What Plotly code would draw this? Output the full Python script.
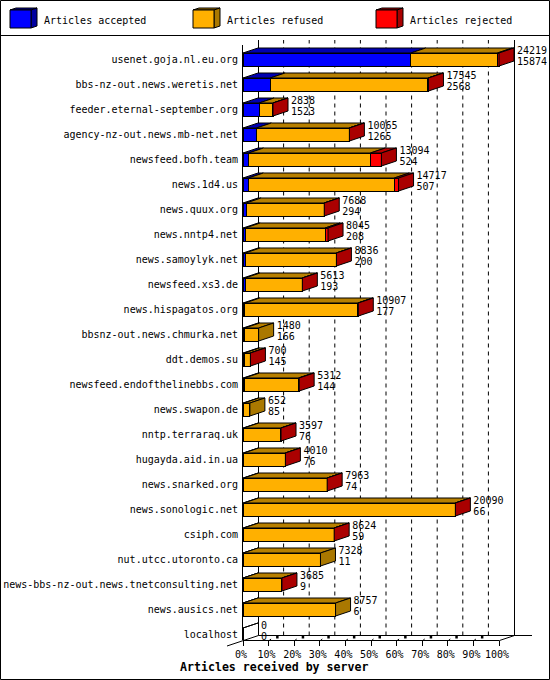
import numpy as np
import plotly.graph_objects as go

hosts = ['usenet.goja.nl.eu.org', 'bbs-nz-out.news.weretis.net', 'feeder.eternal-september.org',
         'agency-nz-out.news.mb-net.net', 'newsfeed.bofh.team', 'news.1d4.us', 'news.quux.org',
         'news.nntp4.net', 'news.samoylyk.net', 'newsfeed.xs3.de', 'news.hispagatos.org',
         'bbsnz-out.news.chmurka.net', 'ddt.demos.su', 'newsfeed.endofthelinebbs.com',
         'news.swapon.de', 'nntp.terraraq.uk', 'hugayda.aid.in.ua', 'news.snarked.org',
         'news.sonologic.net', 'csiph.com', 'nut.utcc.utoronto.ca',
         'news-bbs-nz-out.news.tnetconsulting.net', 'news.ausics.net', 'localhost']
totals = [24219, 17545, 2838, 10065, 13094, 14717, 7688, 8045, 8836, 5613, 10907, 1480,
          700, 5312, 652, 3597, 4010, 7963, 20090, 8624, 7328, 3685, 8757, 0]
accepted = [15874, 2568, 1523, 1265, 524, 507, 294, 208, 200, 193, 177, 166,
            145, 144, 85, 76, 76, 74, 66, 59, 11, 9, 6, 0]
# rejected is not printed on the chart, estimated from the red part of the bars
rejected = [150, 50, 20, 30, 1040, 400, 10, 280, 10, 10, 50, 0,
            10, 60, 0, 30, 10, 10, 10, 10, 0, 10, 0, 0]
legend_names = ['Articles accepted', 'Articles refused', 'Articles rejected']
pct_ticks = [0, 10, 20, 30, 40, 50, 60, 70, 80, 90, 100]

W, H = 550, 680
X0, X100 = 243, 499        # 0% and 100% on the front plane
ROW_H = 25
ROW0 = 59.5                # pixel centre of the first row
TOP, BOTTOM = 45, 640
PX_PER_PCT = (X100 - X0) / 100
DX = 15 / PX_PER_PCT       # depth of the 3d effect in axis units
DY = 5 / ROW_H
HALF = 6.5 / ROW_H

FRONT = ['#0000ff', '#ffb000', '#ff0000']
TOPS = ['#0000b0', '#b88000', '#b80000']
SIDES = ['#0000a0', '#aa7800', '#aa0000']
MONO = 'DejaVu Sans Mono'


def px(x):
    return x / W


def py(y):
    return 1 - y / H


scale = 100 / max(totals)
acc = np.array(accepted) * scale
rej = np.array(rejected) * scale
tot = np.array(totals) * scale
ref = tot - acc - rej
rows = np.arange(len(hosts))

fig = go.Figure()

# front faces
for vals, name, col in zip([acc, ref, rej], legend_names, FRONT):
    fig.add_trace(go.Bar(y=rows, x=vals, orientation='h', name=name, width=2 * HALF,
                         marker=dict(color=col, line=dict(color='black', width=1)),
                         hoverinfo='skip'))


def poly_trace(xs, ys, col):
    return go.Scatter(x=xs, y=ys, mode='lines', fill='toself', fillcolor=col,
                      line=dict(color='black', width=1), hoverinfo='skip', cliponaxis=False)


# top faces, one trace per colour
starts = [np.zeros(len(hosts)), acc, acc + ref]
ends = [acc, acc + ref, tot]
for s, e, col in zip(starts, ends, TOPS):
    xs, ys = [], []
    for i in rows:
        if e[i] > s[i] or (tot[i] == 0 and col == TOPS[0]):
            xs += [s[i], e[i], e[i] + DX, s[i] + DX, s[i], None]
            ys += [i - HALF, i - HALF, i - HALF - DY, i - HALF - DY, i - HALF, None]
    fig.add_trace(poly_trace(xs, ys, col))

# side faces take the colour of the last segment
for which, col in [(1, SIDES[1]), (2, SIDES[2])]:
    xs, ys = [], []
    for i in rows:
        last = 2 if rej[i] > 0 else 1
        if tot[i] > 0 and last == which:
            xs += [tot[i], tot[i] + DX, tot[i] + DX, tot[i], tot[i], None]
            ys += [i - HALF, i - HALF - DY, i + HALF - DY, i + HALF, i - HALF, None]
    fig.add_trace(poly_trace(xs, ys, col))

# numbers next to the bars
label_x = tot + DX + 3 / PX_PER_PCT
fig.add_trace(go.Scatter(x=label_x, y=rows - 0.34, mode='text', text=[str(v) for v in totals],
                         textposition='middle right', cliponaxis=False, hoverinfo='skip',
                         textfont=dict(family=MONO, size=10, color='black')))
fig.add_trace(go.Scatter(x=label_x, y=rows + 0.10, mode='text', text=[str(v) for v in accepted],
                         textposition='middle right', cliponaxis=False, hoverinfo='skip',
                         textfont=dict(family=MONO, size=10, color='black')))

shapes = []


def line(x0, y0, x1, y1):
    shapes.append(dict(type='line', xref='paper', yref='paper', x0=px(x0), y0=py(y0),
                       x1=px(x1), y1=py(y1), line=dict(color='black', width=1), layer='below'))


# frame around the picture and legend separator
shapes.append(dict(type='rect', xref='paper', yref='paper', x0=px(0.5), y0=py(0.5), x1=px(549.5),
                   y1=py(679.5), line=dict(color='black', width=1)))
line(0, 35.5, W, 35.5)

# walls and floor
line(258.5, 40, 258.5, 635.5)
line(514.5, 40, 514.5, 635.5)
line(258.5, 635.5, 532, 635.5)
line(227, 646, 258.5, 635.5)
line(243, 640.5, 499.5, 640.5)
line(499.5, 640.5, 514.5, 635.5)

# dashed grid on the back wall
for p in pct_ticks[1:-1]:
    shapes.append(dict(type='line', xref='x', yref='paper', x0=p + DX, x1=p + DX, y0=py(635.5),
                       y1=py(40), line=dict(color='black', width=1, dash='4px,4px'),
                       layer='below'))
    # small marks on the floor
    shapes.append(dict(type='line', xref='x', yref='paper', x0=p, x1=p + 2.5 / PX_PER_PCT,
                       y0=py(641), y1=py(639), line=dict(color='black', width=1)))
    shapes.append(dict(type='rect', xref='x', yref='paper', x0=p + 7.5 / PX_PER_PCT,
                       x1=p + 10 / PX_PER_PCT, y0=py(638.5), y1=py(636),
                       fillcolor='black', line=dict(color='black', width=0)))

annotations = []
# legend boxes
legend_x = [10, 193, 376]
text_x = [42, 225, 408]
for lx, tx, name, f, s in zip(legend_x, text_x, legend_names, FRONT, SIDES):
    shapes.append(dict(type='path', xref='paper', yref='paper',
                       path=f'M{px(lx)},{py(10)} L{px(lx + 6)},{py(8)} L{px(lx + 27)},{py(8)} '
                            f'L{px(lx + 21)},{py(10)} Z',
                       fillcolor=s, line=dict(color='black', width=1)))
    shapes.append(dict(type='path', xref='paper', yref='paper',
                       path=f'M{px(lx + 21)},{py(10)} L{px(lx + 27)},{py(8)} L{px(lx + 27)},{py(26)} '
                            f'L{px(lx + 21)},{py(28)} Z',
                       fillcolor=s, line=dict(color='black', width=1)))
    shapes.append(dict(type='rect', xref='paper', yref='paper', x0=px(lx), y0=py(10),
                       x1=px(lx + 21), y1=py(28), fillcolor=f, line=dict(color='black', width=1)))
    annotations.append(dict(text=name, xref='paper', yref='paper', x=px(tx), y=py(20), xanchor='left',
                            yanchor='middle', showarrow=False,
                            font=dict(family=MONO, size=10, color='black')))

annotations.append(dict(text='<b>Articles received by server</b>', xref='paper', yref='paper',
                        x=px(274), y=py(667), xanchor='center', yanchor='middle', showarrow=False,
                        font=dict(family=MONO, size=11.6, color='black')))

# x axis runs on past 100% so the depth and the numbers stay in range
x_max = (W - X0) / PX_PER_PCT

fig.update_layout(
    width=W, height=H,
    margin=dict(l=0, r=0, t=0, b=0),
    paper_bgcolor='white', plot_bgcolor='rgba(0,0,0,0)',
    barmode='stack', showlegend=False,
    shapes=shapes, annotations=annotations,
    xaxis=dict(domain=[px(X0), 1], range=[0, x_max], tickvals=pct_ticks, automargin=False,
               ticktext=[f'{p}%' for p in pct_ticks], ticks='outside', ticklen=5, tickwidth=1,
               tickcolor='black', showgrid=False, zeroline=False, showline=False, ticklabelshift=-2,
               tickangle=0, tickfont=dict(family=MONO, size=10, color='black')),
    yaxis=dict(domain=[py(BOTTOM), py(TOP)], autorange=False, automargin=False,
               range=[(BOTTOM - ROW0) / ROW_H, (TOP - ROW0) / ROW_H], tickvals=rows, ticktext=hosts,
               showgrid=False, zeroline=False, showline=True, linecolor='black', linewidth=1,
               ticks='', ticklabelstandoff=2, tickfont=dict(family=MONO, size=10, color='black')),
)

fig.write_html('out.html', config=dict(displayModeBar=False),
               post_script="document.body.style.margin='0';")
